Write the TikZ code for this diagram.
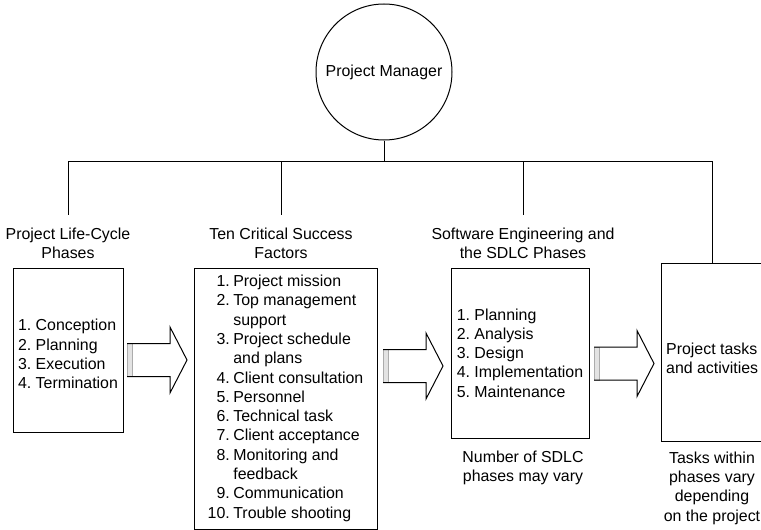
\documentclass[tikz,border=0pt]{standalone}
\usepackage{fontspec}
\setmainfont{Liberation Sans}
\usetikzlibrary{calc}

% hollow block arrow with a light bar closing its tail
\tikzset{
  fatarrow/.pic={
    \fill[gray!22] (0,-16.5) rectangle (5,16.5);
    \draw[gray!65, line width=0.8pt] (0,-16.5) rectangle (5,16.5);
    \draw[line width=1pt, line join=miter]
      (0,-16.5) -- (43,-16.5) -- (43,-33) -- (60,0) -- (43,33) -- (43,16.5) -- (0,16.5);
  }
}

\begin{document}
\begin{tikzpicture}[x=1pt, y=-1pt,
  every node/.style={font=\fontsize{15.9}{19.3}\selectfont\frenchspacing},
  wire/.style={line width=1pt},
  frame/.style={draw, line width=1pt, rectangle, inner sep=0pt},
  caption/.style={align=center, inner sep=1pt}
]
\useasboundingbox (0,0) rectangle (761,530);

% project manager at the root
\node[circle, draw, line width=1pt, minimum size=136pt, inner sep=0pt] (pm) at (384,72) {Project Manager};

% phase headings
\node[caption] (h1) at (68,243) {Project Life-Cycle\\Phases};
\node[caption] (h2) at (281,243) {Ten Critical Success\\Factors};
\node[caption] (h3) at (523,243) {Software Engineering and\\the SDLC Phases};

% boxes
\node[frame, minimum width=110pt, minimum height=164pt] (box1) at (68,350) {};
\node[align=left, inner sep=0pt] (list1) at (68,354)
  {1. Conception\\2. Planning\\3. Execution\\4. Termination};

\node[frame, minimum width=183pt, minimum height=261pt] (box2) at (285.5,398.5)
  {\begin{tabular}{@{}r@{\hspace{3.5pt}}l@{}}
    1. & Project mission\\
    2. & Top management\\
       & support\\
    3. & Project schedule\\
       & and plans\\
    4. & Client consultation\\
    5. & Personnel\\
    6. & Technical task\\
    7. & Client acceptance\\
    8. & Monitoring and\\
       & feedback\\
    9. & Communication\\
    10. & Trouble shooting
  \end{tabular}};

\node[frame, minimum width=138pt, minimum height=170pt, align=left] (box3) at (520,353)
  {1. Planning\\2. Analysis\\3. Design\\4. Implementation\\5. Maintenance};

\node[frame, minimum width=114pt, minimum height=178pt] (box4) at (718,352) {};
\node[align=left, anchor=west, inner sep=0pt] (tasks) at (666,358) {Project tasks\\and activities};

% notes under the boxes
\node[caption] (n3) at (523,468) {Number of SDLC\\phases may vary};
\node[caption] (n4) at (712,488) {Tasks within\\phases vary\\depending\\on the project};

% reporting tree
\coordinate (b1) at (h1.north |- 0,161);
\coordinate (b2) at (h2.north |- 0,161);
\coordinate (b3) at (h3.north |- 0,161);
\coordinate (b4) at (712,161);
\draw[wire] (pm.south) -- (pm.south |- b1);
\draw[wire] (b1) -- (b4);
\draw[wire] (b1) -- ([yshift=11pt]h1.north);
\draw[wire] (b2) -- ([yshift=11pt]h2.north);
\draw[wire] (b3) -- ([yshift=11pt]h3.north);
\draw[wire] (b4) -- (b4 |- box4.north);

% flow between the stages
\pic at (127,360) {fatarrow};
\pic at (383,366) {fatarrow};
\pic at (594,363.5) {fatarrow};
\end{tikzpicture}
\end{document}
